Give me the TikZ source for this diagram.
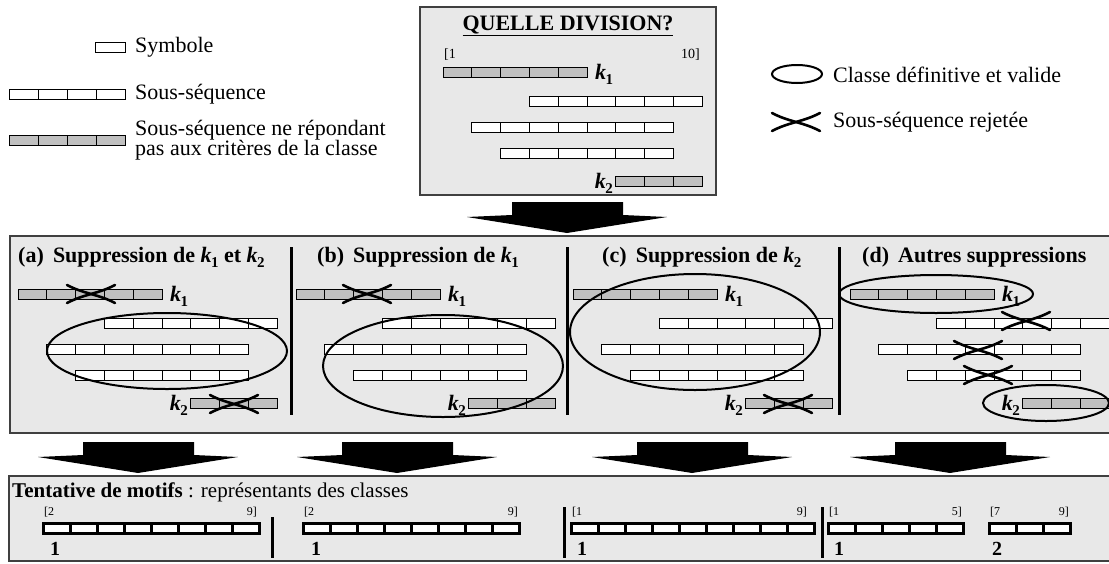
\documentclass[tikz,border=0pt]{standalone}
\usepackage{fontspec}
\setmainfont{Liberation Serif}
\definecolor{boxbg}{HTML}{E8E8E8}
\definecolor{boxline}{HTML}{404040}
\definecolor{seqgrey}{HTML}{C0C0C0}
\newcommand\kk[1]{k\kern-0.5pt\raisebox{-5pt}{\fontsize{15}{15}\selectfont\upshape\bfseries #1}}
\newcommand\seqrow[6]{% x0, ytop, start, count, fill, cell width
  \foreach \j in {1,...,#4}{\draw[cell,fill=#5] ({#1+(#3+\j-1)*#6},#2) rectangle ++(#6,10);}}
\newcommand\bseq[3]{% name, x0, count
  \foreach \j in {1,...,#3}{\draw[bcell] ({#2+(\j-1)*27},523) rectangle ++(27,10);}
  \coordinate (#1) at (#2,523);}
\newcommand\rows[3]{% prefix, x0, ybase
  \seqrow{#2}{#3}{0}{5}{seqgrey}{28.8}
  \seqrow{#2}{#3+29}{3}{6}{white}{28.8}
  \seqrow{#2}{#3+55}{1}{7}{white}{28.8}
  \seqrow{#2}{#3+81}{2}{6}{white}{28.8}
  \seqrow{#2}{#3+109}{6}{3}{seqgrey}{28.8}
  \node[klab, anchor=base west] (#1k1) at (#2+152,#3+12) {\kk1};
  \node[klab, anchor=base east] (#1k2) at (#2+170,#3+121) {\kk2};}
\newcommand\rejx[2]{%
  \draw[rej] (#1-24,#2-9) .. controls (#1-7,#2) and (#1+7,#2) .. (#1+24,#2+9);
  \draw[rej] (#1-24,#2+9) .. controls (#1-7,#2) and (#1+7,#2) .. (#1+24,#2-9);}
\newcommand\bigarrow[2]{%
  \fill[black] (#1-55,#2) -- (#1+56,#2) -- (#1+56,#2+13) -- (#1+100,#2+15) -- (#1,#2+31)
    -- (#1-100,#2+15) -- (#1-55,#2+13) -- cycle;}
\tikzset{
  panel/.style={draw=boxline, line width=2pt, fill=boxbg},
  cell/.style={draw=black, line width=1pt},
  bcell/.style={draw=black, line width=3pt, fill=white},
  ring/.style={draw=black, line width=2pt},
  rej/.style={draw=black, line width=2.6pt, line cap=round},
  divider/.style={draw=black, line width=3pt},
  txt/.style={font=\fontsize{22}{20}\selectfont, inner sep=0pt},
  ttl/.style={font=\fontsize{22}{22}\selectfont\bfseries, inner sep=0pt},
  idx/.style={font=\fontsize{14}{14}\selectfont, inner sep=0pt},
  sidx/.style={font=\fontsize{12}{12}\selectfont, inner sep=0pt},
  num/.style={font=\fontsize{20}{20}\selectfont\bfseries, inner sep=0pt},
  klab/.style={font=\fontsize{22}{22}\selectfont\bfseries\itshape, inner sep=0pt},
}
\begin{document}
\begin{tikzpicture}[x=1pt,y=-1pt]
\useasboundingbox (0,0) rectangle (1109,563);
% ---- legend left
\draw[cell,fill=white] (95,42) rectangle (125,52);
\node[txt, anchor=west] (lsym) at (135,47) {Symbole};
\seqrow{9}{89}{0}{4}{white}{29}
\node[txt, anchor=west] (lseq) at (135,94) {Sous-séquence};
\seqrow{9}{135}{0}{4}{seqgrey}{29}
\node[txt, anchor=west, align=left] (lrej) at (135,140) {Sous-séquence ne répondant\\pas aux critères de la classe};
% ---- legend right
\draw[ring] (797,74) ellipse [x radius=25, y radius=9];
\node[txt, anchor=west] (lcls) at (833,75) {Classe définitive et valide};
\rejx{796}{122}
\node[txt, anchor=west] (lrjt) at (833,122) {Sous-séquence rejetée};
% ---- top box
\draw[panel] (420,7) rectangle (716,195);
\node[ttl] (qd) at (568,26) {\underline{QUELLE DIVISION?}};
\node[idx, anchor=base west] (top1) at (444,58) {[1};
\node[idx, anchor=base east] (top10) at (700,58) {10]};
\rows{t}{443}{67}
% ---- arrow
\bigarrow{567}{202}
% ---- panels
\draw[panel] (10,236) rectangle (1115,433);
\draw[divider] (291,247) -- (291,415);
\draw[divider] (567,247) -- (567,415);
\draw[divider] (839,247) -- (839,415);
\node[ttl, anchor=west] (ta) at (18,257) {(a)\, Suppression de \textit{\kk1} et \textit{\kk2}};
\node[ttl, anchor=west] (tb) at (317,257) {(b)\, Suppression de \textit{\kk1}};
\node[ttl, anchor=west] (tc) at (602,257) {(c)\, Suppression de \textit{\kk2}};
\node[ttl, anchor=west] (td) at (862,257) {(d)\, Autres suppressions};
\rows{a}{18}{289}
\rows{b}{296}{289}
\rows{c}{573}{289}
\rows{d}{850}{289}
% ellipses
\draw[ring] (167,351) ellipse [x radius=120, y radius=38];
\draw[ring] (443,366) ellipse [x radius=120, y radius=51];
\draw[ring] (695,332) ellipse [x radius=125, y radius=58];
\draw[ring] (936,294) ellipse [x radius=97, y radius=19];
\draw[ring] (1046,403) ellipse [x radius=63, y radius=18];
% rejected
\rejx{91}{294}
\rejx{234}{404}
\rejx{367}{294}
\rejx{788}{404}
\rejx{1026}{321}
\rejx{978}{350}
\rejx{988}{375}
% ---- arrows
\bigarrow{138}{442}
\bigarrow{397}{442}
\bigarrow{692}{442}
\bigarrow{950}{442}
% ---- bottom box
\draw[panel] (9,476) rectangle (1115,561);
\node[txt, anchor=west, font=\fontsize{21}{20}\selectfont] (tm) at (12,492) {\textbf{Tentative de motifs} : représentants des classes};
\draw[divider] (272,517) -- (272,558);
\draw[divider] (564,507) -- (564,558);
\draw[divider] (822,507) -- (822,558);
\bseq{m1}{43}{8}
\bseq{m2}{303}{8}
\bseq{m3}{571}{9}
\bseq{m4}{828}{5}
\bseq{m5}{989}{3}
\node[sidx, anchor=base west] (m1l) at (44,515) {[2};
\node[sidx, anchor=base east] (m1r) at (257,515) {9]};
\node[sidx, anchor=base west] (m2l) at (304,515) {[2};
\node[sidx, anchor=base east] (m2r) at (518,515) {9]};
\node[sidx, anchor=base west] (m3l) at (572,515) {[1};
\node[sidx, anchor=base east] (m3r) at (807,515) {9]};
\node[sidx, anchor=base west] (m4l) at (829,515) {[1};
\node[sidx, anchor=base east] (m4r) at (962,515) {5]};
\node[sidx, anchor=base west] (m5l) at (990,515) {[7};
\node[sidx, anchor=base east] (m5r) at (1069,515) {9]};
\node[num, anchor=base west] (n1) at (50,555) {1};
\node[num, anchor=base west] (n2) at (311,555) {1};
\node[num, anchor=base west] (n3) at (577,555) {1};
\node[num, anchor=base west] (n4) at (834,555) {1};
\node[num, anchor=base west] (n5) at (992,555) {2};
\end{tikzpicture}
\end{document}
